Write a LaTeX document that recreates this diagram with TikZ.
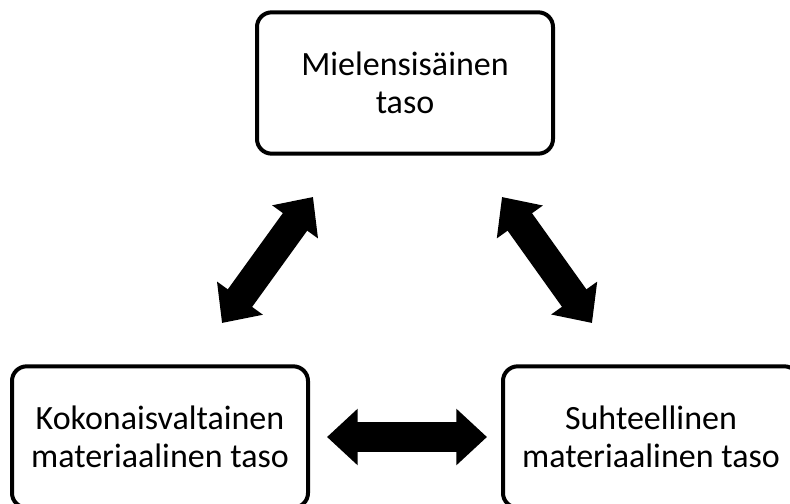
\documentclass[tikz,border=0pt]{standalone}
\usepackage{fontspec}
\setmainfont{Carlito}
\usetikzlibrary{arrows.meta}

\tikzset{
  taso/.style={draw, line width=3pt, rounded corners=11pt, fill=white,
    minimum width=222pt, minimum height=106pt, align=center,
    font=\fontsize{25.5}{28.5}\selectfont},
  iso nuoli/.style={line width=22.5pt,
    {Triangle[width=41pt, length=23pt]}-{Triangle[width=41pt, length=23pt]}}
}

\begin{document}
\begin{tikzpicture}[x=0.75pt,y=-0.75pt]

        % Kuvan rajat
        \useasboundingbox (0,0) rectangle (790,504);
        \clip (0,0) rectangle (790,504);

        % Tasot
        \node[taso] (mieli) at (405,83) {Mielensisäinen\\taso};
        \node[taso] (kokon) at (160,437) {Kokonaisvaltainen\\materiaalinen taso};
        \node[taso] (suht) at (651,437) {Suhteellinen\\materiaalinen taso};

        % Nuolten päät
        \coordinate (v1) at (313,197);
        \coordinate (v2) at (222,323);
        \coordinate (o1) at (502,197);
        \coordinate (o2) at (592,323);
        \coordinate (a1) at (327,437);
        \coordinate (a2) at (487,437);

        % Nuolet
        \draw[iso nuoli] (v1) -- (v2);
        \draw[iso nuoli] (o1) -- (o2);
        \draw[iso nuoli] (a1) -- (a2);

\end{tikzpicture}
\end{document}
